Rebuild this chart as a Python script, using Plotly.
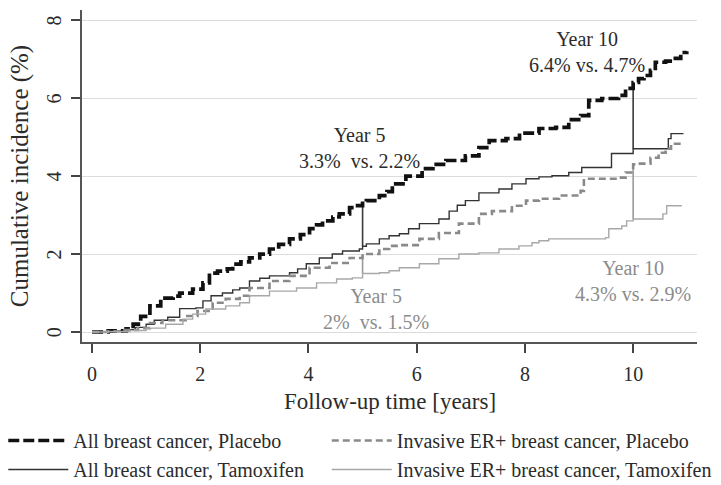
import plotly.graph_objects as go

# ---- data ----
placebo_all_x = [0, 0.3, 0.63, 0.76, 0.9, 1.07, 1.27, 1.5, 1.62, 1.86, 2.05, 2.17, 2.32, 2.5, 2.6, 2.75,
                 2.91, 3.1, 3.28, 3.45, 3.65, 3.85, 4.02, 4.15, 4.26, 4.45, 4.57, 4.76, 4.85, 5.0, 5.07,
                 5.31, 5.45, 5.55, 5.8, 6.1, 6.3, 6.54, 6.9, 7.15, 7.34, 7.65, 7.9, 8.26, 8.57, 8.81,
                 9.03, 9.18, 9.42, 9.73, 9.86, 10.0, 10.1, 10.2, 10.32, 10.41, 10.6, 10.78, 10.88, 10.99]
placebo_all_y = [0, 0.03, 0.08, 0.2, 0.4, 0.67, 0.87, 0.92, 1.0, 1.1, 1.26, 1.51, 1.56, 1.62, 1.74, 1.8,
                 1.9, 2.0, 2.13, 2.25, 2.39, 2.5, 2.65, 2.75, 2.85, 2.95, 3.03, 3.19, 3.24, 3.3, 3.37,
                 3.5, 3.6, 3.8, 4.0, 4.19, 4.3, 4.4, 4.52, 4.73, 4.91, 4.96, 5.1, 5.22, 5.25, 5.45,
                 5.55, 5.94, 5.99, 6.07, 6.25, 6.4, 6.5, 6.58, 6.71, 6.92, 6.95, 7.02, 7.17, 7.2]

tamox_all_x = [0, 0.3, 0.6, 0.8, 1.0, 1.15, 1.4, 1.62, 1.92, 2.05, 2.2, 2.41, 2.6, 2.73, 2.91, 3.1,
               3.28, 3.65, 3.8, 3.96, 4.2, 4.44, 4.63, 4.94, 5.0, 5.07, 5.31, 5.49, 5.68, 5.85, 6.05,
               6.41, 6.6, 6.75, 6.9, 7.15, 7.52, 7.76, 8.02, 8.26, 8.5, 8.81, 9.05, 9.6, 10.0, 10.65,
               10.7, 10.92]
tamox_all_y = [0, 0.03, 0.06, 0.12, 0.2, 0.3, 0.38, 0.6, 0.62, 0.8, 0.93, 1.0, 1.08, 1.13, 1.31, 1.38,
               1.44, 1.52, 1.62, 1.75, 1.9, 2.0, 2.08, 2.13, 2.2, 2.26, 2.39, 2.47, 2.52, 2.65, 2.78,
               2.9, 3.1, 3.25, 3.37, 3.57, 3.67, 3.8, 3.93, 3.98, 4.01, 4.09, 4.22, 4.58, 4.7, 4.96,
               5.09, 5.1]

er_placebo_x = [0, 0.3, 0.6, 0.85, 1.07, 1.3, 1.73, 1.95, 2.23, 2.47, 2.73, 2.91, 3.28, 3.65, 4.02,
                4.39, 4.76, 5.0, 5.31, 5.49, 5.68, 6.05, 6.41, 6.78, 7.15, 7.39, 7.76, 8.02, 8.26, 8.63,
                9.03, 9.09, 9.73, 9.86, 10.0, 10.1, 10.32, 10.47, 10.6, 10.7, 10.9]
er_placebo_y = [0, 0.02, 0.05, 0.1, 0.23, 0.3, 0.41, 0.54, 0.75, 0.85, 0.93, 1.13, 1.31, 1.44, 1.65,
                1.77, 1.9, 2.0, 2.13, 2.21, 2.23, 2.39, 2.54, 2.78, 3.03, 3.1, 3.24, 3.37, 3.42, 3.5,
                3.62, 3.93, 3.96, 4.09, 4.3, 4.32, 4.47, 4.6, 4.7, 4.83, 4.9]

er_tamox_x = [0, 0.3, 0.7, 1.0, 1.36, 1.68, 1.86, 2.1, 2.47, 2.73, 2.91, 3.28, 3.78, 4.15, 4.52, 4.81,
              5.0, 5.31, 5.49, 5.68, 6.05, 6.41, 6.78, 7.15, 7.52, 7.89, 8.13, 8.26, 8.44, 9.49, 9.55,
              9.79, 9.88, 10.0, 10.55, 10.62, 10.9]
er_tamox_y = [0, 0.01, 0.04, 0.1, 0.2, 0.33, 0.46, 0.59, 0.67, 0.75, 0.93, 1.05, 1.13, 1.26, 1.36, 1.39,
              1.5, 1.52, 1.57, 1.65, 1.75, 1.88, 2.0, 2.03, 2.13, 2.21, 2.29, 2.34, 2.39, 2.42, 2.65,
              2.72, 2.85, 2.9, 3.03, 3.24, 3.24]

year_marks = [5, 10]
mark_placebo_all = [3.3, 6.4]
mark_tamox_all = [2.2, 4.7]
mark_er_placebo = [2.0, 4.3]
mark_er_tamox = [1.5, 2.9]

year_labels = ["Year 5", "Year 10"]
all_texts = ["3.3%  vs. 2.2%", "6.4% vs. 4.7%"]
er_texts = ["2%  vs. 1.5%", "4.3% vs. 2.9%"]

series_names = ["All breast cancer, Placebo", "Invasive ER+ breast cancer, Placebo",
                "All breast cancer, Tamoxifen", "Invasive ER+ breast cancer, Tamoxifen"]

x_title = "Follow-up time [years]"
y_title = "Cumulative incidence (%)"
x_ticks = [0, 2, 4, 6, 8, 10]
y_ticks = [0, 2, 4, 6, 8]

FONT = "Liberation Serif, Times New Roman, serif"
DARK = "#2b2b2b"
GRAY = "#8c8c8c"

fig = go.Figure()

# year marker vertical lines
for i, xm in enumerate(year_marks):
    fig.add_trace(go.Scatter(x=[xm, xm], y=[mark_tamox_all[i], mark_placebo_all[i]], mode="lines",
                             line=dict(color="#3a3a3a", width=1.6), showlegend=False, hoverinfo="skip"))
    fig.add_trace(go.Scatter(x=[xm, xm], y=[mark_er_tamox[i], mark_er_placebo[i]], mode="lines",
                             line=dict(color="#9a9a9a", width=1.6), showlegend=False, hoverinfo="skip"))

fig.add_trace(go.Scatter(x=placebo_all_x, y=placebo_all_y, mode="lines", line_shape="hv",
                         name=series_names[0], legend="legend",
                         line=dict(color="#111111", width=3.7, dash="11px,4px")))
fig.add_trace(go.Scatter(x=tamox_all_x, y=tamox_all_y, mode="lines", line_shape="hv",
                         name=series_names[2], legend="legend",
                         line=dict(color="#333333", width=1.4)))
fig.add_trace(go.Scatter(x=er_placebo_x, y=er_placebo_y, mode="lines", line_shape="hv",
                         name=series_names[1], legend="legend2",
                         line=dict(color="#8a8a8a", width=2.6, dash="7px,4px")))
fig.add_trace(go.Scatter(x=er_tamox_x, y=er_tamox_y, mode="lines", line_shape="hv",
                         name=series_names[3], legend="legend2",
                         line=dict(color="#a8a8a8", width=1.4)))

# annotations
ann_pos_all = [(4.94, 4.73), (9.14, 7.17)]
ann_pos_er = [(5.25, 0.6), (10.0, 1.31)]
for i in range(2):
    fig.add_annotation(x=ann_pos_all[i][0], y=ann_pos_all[i][1], xref="x", yref="y",
                       xanchor="center", yanchor="middle",
                       text=year_labels[i] + "<br>" + all_texts[i], showarrow=False,
                       font=dict(family=FONT, size=20, color=DARK), align="center")
    fig.add_annotation(x=ann_pos_er[i][0], y=ann_pos_er[i][1], xref="x", yref="y",
                       xanchor="center", yanchor="middle",
                       text=year_labels[i] + "<br>" + er_texts[i], showarrow=False,
                       font=dict(family=FONT, size=20, color=GRAY), align="center")

# rotated y tick labels
for v in y_ticks:
    fig.add_annotation(x=-0.045, y=v, xref="paper", yref="y", text=str(v), textangle=-90,
                       xanchor="center", yanchor="middle",
                       showarrow=False, font=dict(family=FONT, size=20, color=DARK))

# x-axis title
fig.add_annotation(x=0.5, y=-0.18, xref="paper", yref="paper", text=x_title,
                   xanchor="center", yanchor="middle", showarrow=False,
                   font=dict(family=FONT, size=23, color=DARK))

legend_common = dict(orientation="v", yanchor="top", xanchor="left",
                     font=dict(family=FONT, size=20, color=DARK), itemwidth=60,
                     bgcolor="rgba(0,0,0,0)", tracegroupgap=0)

fig.update_layout(
    width=721, height=485,
    margin=dict(l=82, r=24, t=10, b=143, autoexpand=False),
    paper_bgcolor="white", plot_bgcolor="white",
    font=dict(family=FONT, color=DARK),
    showlegend=True,
    legend=dict(x=-0.128, y=-0.238, **legend_common),
    legend2=dict(x=0.398, y=-0.238, **legend_common),
    xaxis=dict(range=[-0.185, 11.18], tickvals=x_ticks, ticktext=[str(v) for v in x_ticks],
               showgrid=False, zeroline=False, showline=True, linecolor="#555", linewidth=1.5,
               ticks="outside", ticklen=9, tickwidth=1.5, tickcolor="#444", ticklabelstandoff=4,
               tickfont=dict(family=FONT, size=20, color=DARK)),
    yaxis=dict(range=[-0.256, 8.26], tickvals=y_ticks, showticklabels=False,
               showgrid=True, gridcolor="#dcdcdc", gridwidth=1.2, zeroline=False,
               showline=True, linecolor="#555", linewidth=1.5, automargin=True,
               ticks="outside", ticklen=9, tickwidth=1.5, tickcolor="#444",
               title=dict(text=y_title, font=dict(family=FONT, size=25, color=DARK),
                          standoff=36)),
)

fig.write_html("out.html")
